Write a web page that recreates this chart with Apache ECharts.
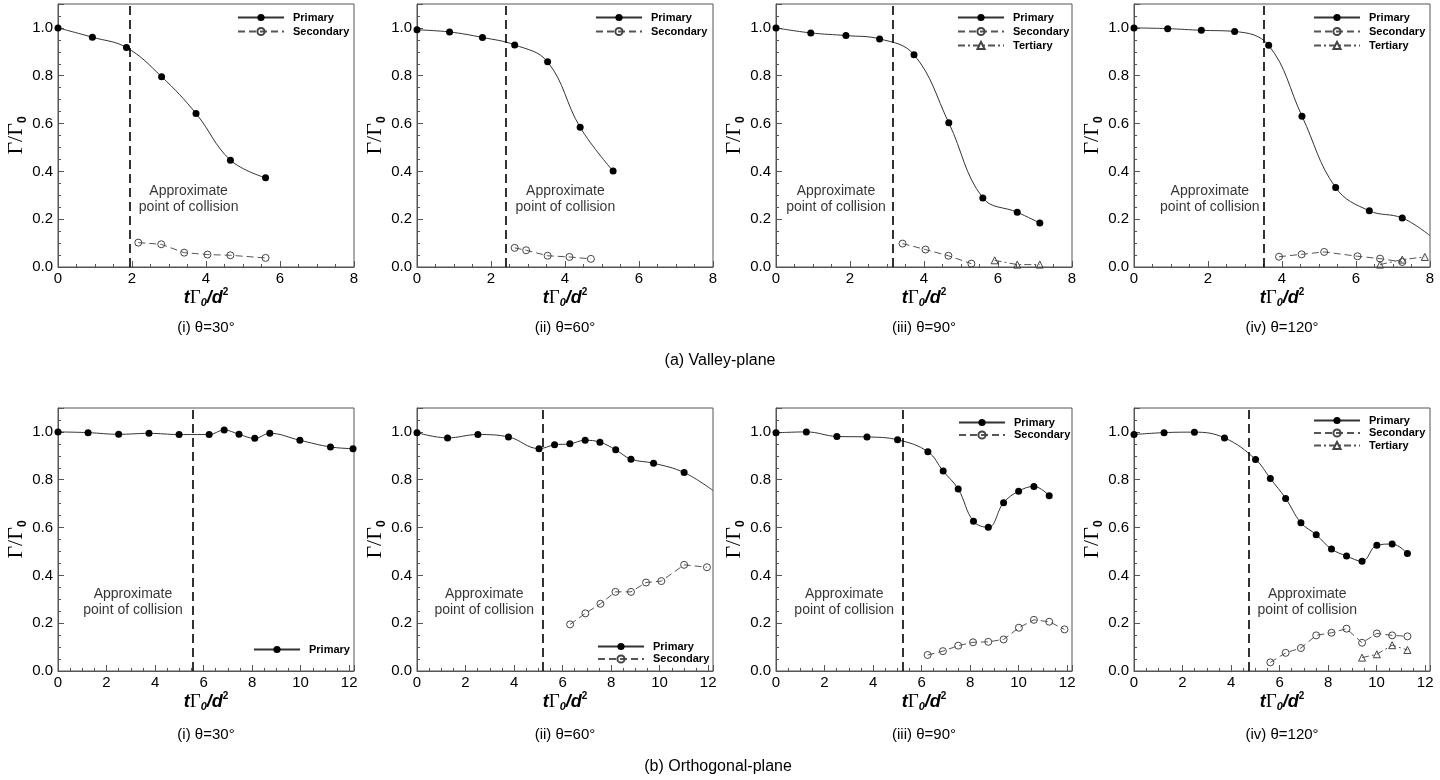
<!DOCTYPE html>
<html>
<head>
<meta charset="utf-8">
<title>Circulation decay</title>
<script src="https://cdn.jsdelivr.net/npm/echarts@6/dist/echarts.min.js"></script>
<style>
  html, body { margin: 0; padding: 0; background: #fff; }
  #main { width: 1440px; height: 780px; }
</style>
</head>
<body>
<div id="main"></div>
<script>
// ---- data ----
// (a) valley-plane
var a30Primary   = [[0,1.0],[0.93,0.961],[1.85,0.918],[2.80,0.796],[3.73,0.642],[4.66,0.447],[5.61,0.373]];
var a30Secondary = [[2.17,0.102],[2.79,0.095],[3.41,0.060],[4.04,0.052],[4.66,0.049],[5.61,0.038]];
var a60Primary   = [[0,0.992],[0.88,0.983],[1.77,0.960],[2.64,0.929],[3.53,0.858],[4.41,0.584],[5.30,0.401]];
var a60Secondary = [[2.64,0.080],[2.95,0.070],[3.53,0.047],[4.12,0.042],[4.70,0.034]];
var a90Primary   = [[0,1.0],[0.94,0.979],[1.89,0.968],[2.80,0.954],[3.73,0.888],[4.67,0.603],[5.59,0.289],[6.52,0.229],[7.13,0.184]];
var a90Secondary = [[3.42,0.098],[4.04,0.073],[4.66,0.047],[5.28,0.014]];
var a90Tertiary  = [[5.91,0.028],[6.52,0.010],[7.13,0.010]];
var a120Primary   = [[0,1.0],[0.91,0.997],[1.82,0.990],[2.72,0.985],[3.64,0.927],[4.54,0.631],[5.45,0.332],[6.36,0.235],[7.25,0.205]];
var a120Secondary = [[3.92,0.043],[4.53,0.053],[5.14,0.063],[6.04,0.045],[6.65,0.035],[7.25,0.021]];
var a120Tertiary  = [[6.65,0.010],[7.25,0.031],[7.86,0.042]];
// (b) orthogonal-plane
var b30Primary   = [[0,1.0],[1.24,0.997],[2.50,0.990],[3.75,0.994],[4.99,0.989],[6.23,0.989],[6.85,1.008],[7.46,0.990],[8.11,0.973],[8.73,0.994],[9.97,0.965],[11.23,0.937],[12.16,0.930]];
var b60Primary   = [[0,0.997],[1.26,0.975],[2.51,0.989],[3.77,0.979],[5.03,0.930],[5.67,0.946],[6.30,0.950],[6.93,0.965],[7.54,0.957],[8.19,0.925],[8.82,0.886],[9.75,0.869],[11.01,0.830]];
var b60Secondary = [[6.31,0.195],[6.94,0.241],[7.56,0.281],[8.18,0.331],[8.82,0.331],[9.44,0.370],[10.07,0.376],[11.01,0.444],[11.95,0.434]];
var b90Primary   = [[0,0.996],[1.25,1.0],[2.51,0.981],[3.75,0.979],[5.01,0.967],[6.26,0.917],[6.89,0.836],[7.51,0.761],[8.14,0.626],[8.75,0.601],[9.38,0.704],[10.0,0.752],[10.63,0.772],[11.26,0.733]];
var b90Secondary = [[6.25,0.067],[6.88,0.083],[7.51,0.106],[8.12,0.120],[8.75,0.122],[9.38,0.132],[10.01,0.181],[10.63,0.214],[11.26,0.206],[11.89,0.174]];
var b120Primary   = [[0,0.989],[1.24,0.997],[2.49,0.999],[3.73,0.975],[5.01,0.885],[5.62,0.805],[6.25,0.722],[6.88,0.620],[7.51,0.570],[8.14,0.510],[8.76,0.481],[9.40,0.459],[10.01,0.526],[10.64,0.531],[11.27,0.491]];
var b120Secondary = [[5.62,0.036],[6.25,0.076],[6.88,0.096],[7.51,0.149],[8.14,0.160],[8.76,0.177],[9.40,0.118],[10.01,0.157],[10.64,0.149],[11.27,0.145]];
var b120Tertiary  = [[9.40,0.056],[10.01,0.070],[10.64,0.108],[11.27,0.088]];

// where the fitted curve stops beyond the last point (no marker there)
var curveEnd = [null, null, null, [8, 0.131], null, [12.2, 0.755], null, null];

var xMax = [8, 8, 8, 8, 12.2, 12.2, 12.2, 12.2];
var collisionX = [1.93, 2.41, 3.15, 3.51, 5.57, 5.20, 5.23, 4.75];
var noteX = [3.53, 4.01, 1.62, 2.05, 3.09, 2.77, 2.81, 7.14];
var noteY = [0.283, 0.283, 0.283, 0.283, 0.289, 0.289, 0.289, 0.289];
var yTicks = [0, 0.2, 0.4, 0.6, 0.8, 1.0];
var angleLabels = ['(i) \u03b8=30\u00b0', '(ii) \u03b8=60\u00b0', '(iii) \u03b8=90\u00b0', '(iv) \u03b8=120\u00b0'];
var planeLabels = ['(a) Valley-plane', '(b) Orthogonal-plane'];

var primary   = [a30Primary, a60Primary, a90Primary, a120Primary, b30Primary, b60Primary, b90Primary, b120Primary];
var secondary = [a30Secondary, a60Secondary, a90Secondary, a120Secondary, null, b60Secondary, b90Secondary, b120Secondary];
var tertiary  = [null, null, a90Tertiary, a120Tertiary, null, null, null, b120Tertiary];

// ---- layout ----
var gridLeft = [58, 417, 776, 1134];
var gridTop = [4, 408];
var gridW = 296, gridH = 263;
var legendPos = [[237, 12], [595, 12], [957, 12], [1313, 12], [253, 644], [597, 641], [958, 417], [1313, 415]];

var SANS = '"Liberation Sans", Arial, sans-serif';
var SERIF = '"Liberation Serif", "Times New Roman", serif';
var AXIS = '#555';

var xNameRich = {
  bi: { fontFamily: SANS, fontSize: 18, fontWeight: 'bold', fontStyle: 'italic', color: '#000', lineHeight: 22 },
  g: { fontFamily: SERIF, fontSize: 19, color: '#000', lineHeight: 22 },
  sub: { fontFamily: SANS, fontSize: 11, fontWeight: 'bold', fontStyle: 'italic', color: '#000', verticalAlign: 'bottom', lineHeight: 12 },
  sup: { fontFamily: SANS, fontSize: 10, fontWeight: 'bold', color: '#000', verticalAlign: 'top', lineHeight: 12 }
};
var yNameRich = {
  g: { fontFamily: SERIF, fontSize: 22, color: '#000', lineHeight: 24 },
  sub: { fontFamily: SANS, fontSize: 12, fontWeight: 'bold', color: '#000', verticalAlign: 'bottom', lineHeight: 12 }
};

var grids = [], xAxes = [], yAxes = [], series = [], legends = [], graphics = [];

function hollow(color) {
  return { color: 'rgba(255,255,255,0)', borderColor: color, borderWidth: 1 };
}

for (var p = 0; p < 8; p++) {
  var row = p < 4 ? 0 : 1, col = p % 4;
  grids.push({
    left: gridLeft[col], top: gridTop[row], width: gridW, height: gridH,
    show: true, borderColor: AXIS, borderWidth: 1, backgroundColor: 'transparent'
  });

  // main x axis + minor-tick overlay
  xAxes.push({
    gridIndex: p, type: 'value', position: 'bottom', min: 0, max: xMax[p], interval: 2,
    axisLine: { show: true, onZero: false, lineStyle: { color: AXIS } },
    axisTick: { inside: true, length: 6, lineStyle: { color: AXIS } },
    axisLabel: {
      margin: 4, fontSize: 15, color: '#000', fontFamily: SANS,
      formatter: function (v) { return (Math.abs(v - Math.round(v)) < 1e-6 && Math.round(v) % 2 === 0) ? String(Math.round(v)) : ''; }
    },
    splitLine: { show: false },
    name: '{bi|t}{g|\u0393}{sub|0}{bi|/d}{sup|2}',
    nameLocation: 'middle', nameGap: 12,
    nameTextStyle: { rich: xNameRich }
  });
  xAxes.push({
    gridIndex: p, type: 'value', position: 'bottom', min: 0, max: xMax[p], interval: 0.5,
    axisLine: { show: false }, axisLabel: { show: false }, splitLine: { show: false },
    axisTick: { inside: true, length: 3, lineStyle: { color: AXIS } }
  });

  yAxes.push({
    gridIndex: p, type: 'value', position: 'left', min: 0, max: 1.1, interval: 0.2,
    axisLine: { show: true, onZero: false, lineStyle: { color: AXIS } },
    axisTick: { inside: true, length: 6, lineStyle: { color: AXIS } },
    axisLabel: {
      margin: 5, fontSize: 15, color: '#000', fontFamily: SANS,
      formatter: function (v) {
        for (var k = 0; k < yTicks.length; k++) if (Math.abs(v - yTicks[k]) < 1e-6) return yTicks[k].toFixed(1);
        return '';
      }
    },
    splitLine: { show: false },
    name: '{g|\u0393/\u0393}{sub|0}',
    nameLocation: 'middle', nameGap: 28,
    nameTextStyle: { rich: yNameRich }
  });
  yAxes.push({
    gridIndex: p, type: 'value', position: 'left', min: 0, max: 1.1, interval: 0.05,
    axisLine: { show: false }, axisLabel: { show: false }, splitLine: { show: false },
    axisTick: { inside: true, length: 3, lineStyle: { color: AXIS } }
  });

  var pData = primary[p].slice();
  if (curveEnd[p]) pData.push({ value: curveEnd[p], symbol: 'none' });

  series.push({
    type: 'line', name: 'Primary', xAxisIndex: 2 * p, yAxisIndex: 2 * p,
    data: pData, smooth: 0.4, symbol: 'circle', symbolSize: 7,
    itemStyle: { color: '#000' },
    lineStyle: { color: '#333', width: 1 },
    z: 4,
    markLine: {
      silent: true, symbol: ['none', 'none'], label: { show: false },
      lineStyle: { color: '#000', type: [9, 5], width: 1.6 },
      data: [{ xAxis: collisionX[p] }]
    }
  });
  var names = ['Primary'];
  if (secondary[p]) {
    series.push({
      type: 'line', name: 'Secondary', xAxisIndex: 2 * p, yAxisIndex: 2 * p,
      data: secondary[p], symbol: 'circle', symbolSize: 7,
      itemStyle: hollow('#444'),
      lineStyle: { color: '#555', width: 1, type: [7, 4] },
      z: 3
    });
    names.push('Secondary');
  }
  if (tertiary[p]) {
    series.push({
      type: 'line', name: 'Tertiary', xAxisIndex: 2 * p, yAxisIndex: 2 * p,
      data: tertiary[p], symbol: 'triangle', symbolSize: 7,
      itemStyle: hollow('#444'),
      lineStyle: { color: '#555', width: 1, type: [7, 3, 2, 3] },
      z: 3
    });
    names.push('Tertiary');
  }
  series.push({
    type: 'scatter', name: 'note', xAxisIndex: 2 * p, yAxisIndex: 2 * p,
    data: [[noteX[p], noteY[p]]], symbolSize: 1, silent: true,
    itemStyle: { color: 'rgba(0,0,0,0)' },
    label: {
      show: true, position: 'inside', formatter: 'Approximate\npoint of collision',
      fontFamily: SANS, fontSize: 14, lineHeight: 16, color: '#000', align: 'center'
    }
  });

  legends.push({
    data: names, orient: 'vertical', left: legendPos[p][0], top: legendPos[p][1],
    padding: 0, itemWidth: 46, itemHeight: 9, itemGap: row === 0 ? 3 : 1.5,
    selectedMode: false,
    textStyle: { fontFamily: SANS, fontSize: 11, fontWeight: 'bold', color: '#000', lineHeight: 10, padding: [0, 0, 0, 4] }
  });

  graphics.push({
    type: 'text', x: gridLeft[col] + gridW / 2, y: row === 0 ? 328 : 735,
    style: { text: angleLabels[col], fontFamily: SANS, fontSize: 15, fill: '#000', align: 'center', verticalAlign: 'middle' }
  });
}
graphics.push({
  type: 'text', x: 720, y: 361,
  style: { text: planeLabels[0], fontFamily: SANS, fontSize: 16, fill: '#000', align: 'center', verticalAlign: 'middle' }
});
graphics.push({
  type: 'text', x: 718, y: 767,
  style: { text: planeLabels[1], fontFamily: SANS, fontSize: 16, fill: '#000', align: 'center', verticalAlign: 'middle' }
});

var myChart = echarts.init(document.getElementById('main'));
var option = {
  animation: false,
  backgroundColor: '#fff',
  textStyle: { fontFamily: SANS },
  grid: grids,
  xAxis: xAxes,
  yAxis: yAxes,
  legend: legends,
  graphic: graphics,
  series: series
};
myChart.setOption(option);
window.addEventListener('resize', function () {
  myChart.resize();
});
</script>
</body>
</html>
